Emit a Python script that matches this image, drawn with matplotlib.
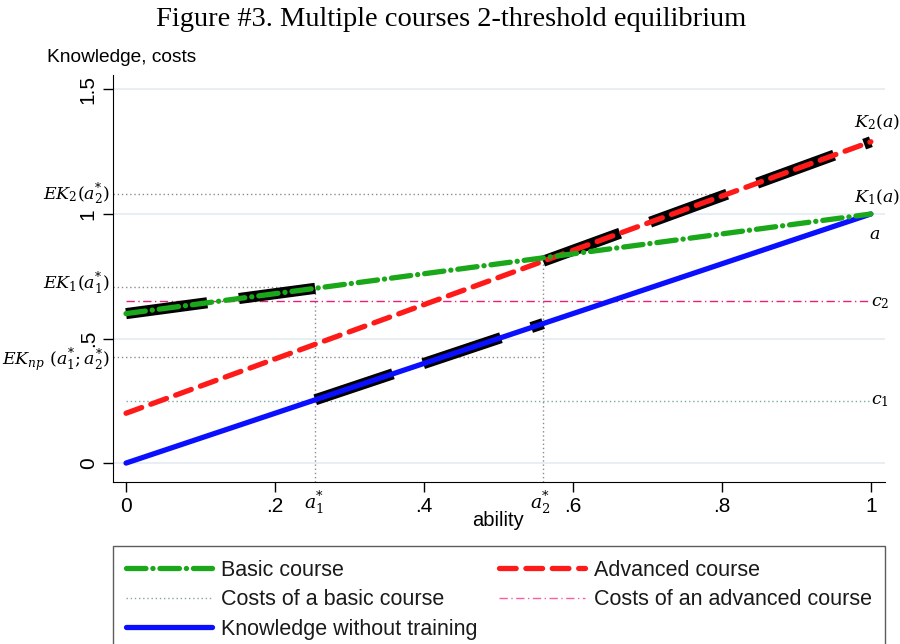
import matplotlib
matplotlib.use("Agg")
import matplotlib.pyplot as plt
import matplotlib.transforms as mtransforms
from matplotlib.lines import Line2D
import numpy as np

plt.rcParams['mathtext.fontset'] = 'stix'
plt.rcParams['lines.scale_dashes'] = False

# ---- data ----
ability = [0.0, 1.0]
basic_course = [0.60, 1.00]
advanced_course = [0.20, 1.29]
knowledge = [0.0, 1.0]
cost_basic = 0.25
cost_adv = 0.65
a1_star = 0.254
a2_star = 0.56
EK2 = 1.08
EK1 = 0.705
EKnp = 0.426
xticks = [0, 0.2, 0.4, 0.6, 0.8, 1.0]
xticklabels = ["0", ".2", ".4", ".6", ".8", "1"]
yticks = [0, 0.5, 1.0, 1.5]
yticklabels = ["0", ".5", "1", "1.5"]

GREEN = '#1aa81a'
RED = '#ff1a1a'
BLUE = '#0a10ff'
PINK = '#e8207a'
TEAL = '#79aaa2'
GREY = '#8c8c8c'

sans = ['Liberation Sans Narrow', 'Liberation Sans', 'DejaVu Sans']

fig = plt.figure(figsize=(9, 6.44), dpi=100)
ax = fig.add_axes([113/900, 1-482/644, 772/900, (482-75)/644])
ax.set_xlim(-0.0175, 1.019)
ax.set_ylim(-0.076, 1.558)

for s in ['top', 'right']:
    ax.spines[s].set_visible(False)

# grid
for y in yticks:
    ax.axhline(y, color='#e4ecf2', lw=1.2, zorder=0)

def interp(xs, ys, x):
    return float(np.interp(x, xs, ys))

xmin = ax.get_xlim()[0]
ymin = ax.get_ylim()[0]
dotted = dict(color=GREY, lw=1, ls=(0, (1, 2)), zorder=1)

# reference dotted lines
x_ek2 = (EK2 - advanced_course[0]) / (advanced_course[1] - advanced_course[0]) * (ability[1] - ability[0]) + ability[0]
ax.plot([xmin, x_ek2], [EK2, EK2], **dotted)
ax.plot([xmin, a1_star], [EK1, EK1], **dotted)
ax.plot([xmin, a2_star], [EKnp, EKnp], **dotted)
ax.plot([a1_star, a1_star], [ymin, interp(ability, basic_course, a1_star)], **dotted)
ax.plot([a2_star, a2_star], [ymin, interp(ability, basic_course, a2_star)], **dotted)

# costs
ax.plot(ability, [cost_basic]*2, color=TEAL, lw=1, ls=(0, (1, 2)), zorder=2)
ax.plot(ability, [cost_adv]*2, color=PINK, lw=1, ls=(0, (6, 2.5, 1, 2.5)), zorder=2)

# black highlighted (equilibrium) parts
blk = dict(color='black', lw=8, ls=(0, (59, 23)), dash_capstyle='butt', zorder=3)
xs = np.array([ability[0], a1_star])
ax.plot(xs, [interp(ability, basic_course, v) for v in xs], **blk)
xs = np.array([a1_star, a2_star])
ax.plot(xs, [interp(ability, knowledge, v) for v in xs], **blk)
xs = np.array([a2_star, ability[1]])
ax.plot(xs, [interp(ability, advanced_course, v) for v in xs], **blk)

# main lines
ax.plot(ability, knowledge, color=BLUE, lw=3.8, solid_capstyle='round', zorder=4)
ax.plot(ability, advanced_course, color=RED, lw=3.8, ls=(0, (12, 7)), dash_capstyle='round', zorder=5)
ax.plot(ability, basic_course, color=GREEN, lw=3.8, ls=(0, (14, 5, 0.1, 5)), dash_capstyle='round', zorder=6)

# ticks
ax.set_xticks(xticks)
ax.set_xticklabels(xticklabels, fontfamily=sans, fontsize=15)
ax.set_yticks(yticks)
ax.set_yticklabels(yticklabels, fontfamily=sans, fontsize=15, rotation=90, va='center')
ax.tick_params(axis='both', direction='out', length=7, width=1, pad=4)

# threshold labels on x axis
xtr = mtransforms.blended_transform_factory(ax.transData, ax.transAxes)
xl = dict(transform=xtr, ha='center', va='center', fontsize=13.5, math_fontfamily='dejavuserif')
ax.text(a1_star - 0.002, -0.05, r'$a_1^{*}$', **xl)
ax.text(a2_star - 0.004, -0.05, r'$a_2^{*}$', **xl)

# left labels
ytr = mtransforms.blended_transform_factory(ax.transAxes, ax.transData)
lab = dict(transform=ytr, ha='right', va='center', fontsize=12.5, math_fontfamily='dejavuserif')
ax.text(-0.004, EK2, r'$EK_2(a_2^{*})$', **lab)
ax.text(-0.004, EK1 + 0.015, r'$EK_1(a_1^{*})$', **lab)
ax.text(-0.004, EKnp - 0.012, r'$EK_{np}\ (a_1^{*};a_2^{*})$', **lab)

# right labels
rl = dict(ha='center', va='center', fontsize=12.5, clip_on=False, math_fontfamily='dejavuserif')
ax.text(ability[1] + 0.008, advanced_course[1] + 0.08, r'$K_2(a)$', **rl)
ax.text(ability[1] + 0.008, basic_course[1] + 0.065, r'$K_1(a)$', **rl)
ax.text(ability[1] + 0.005, knowledge[1] - 0.08, r'$a$', **rl)
ax.text(ability[1] + 0.012, cost_adv - 0.005, r'$c_2$', **rl)
ax.text(ability[1] + 0.012, cost_basic + 0.003, r'$c_1$', **rl)

# axis titles
fig.text(47/900, 1-58/644, 'Knowledge, costs', fontsize=13.8, fontfamily=['Liberation Sans'], ha='left', va='center')
fig.text(498/900, 1-521/644, 'ability', fontsize=14.5, fontfamily=sans, ha='center', va='center')
fig.text(451/900, 1-20/644, 'Figure #3. Multiple courses 2-threshold equilibrium',
         fontsize=20.5, fontfamily=['Liberation Serif'], ha='center', va='center')

# legend
handles = [
    Line2D([], [], color=GREEN, lw=3.8, ls=(0, (14, 5, 0.1, 5)), dash_capstyle='round'),
    Line2D([], [], color=TEAL, lw=1, ls=(0, (1, 2))),
    Line2D([], [], color=BLUE, lw=3.8, solid_capstyle='round'),
    Line2D([], [], color=RED, lw=3.8, ls=(0, (12, 7)), dash_capstyle='round'),
    Line2D([], [], color='#ff5aa8', lw=1, ls=(0, (6, 2.5, 1, 2.5))),
]
labels = ['Basic course', 'Costs of a basic course', 'Knowledge without training',
          'Advanced course', 'Costs of an advanced course']
leg = fig.legend(handles, labels, loc='upper left',
                 bbox_to_anchor=(113/900, 1-547/644, 772/900, 0.001), mode='expand',
                 ncol=2, frameon=True, fancybox=False, edgecolor='#333333',
                 prop={'family': 'Liberation Sans', 'size': 15.5},
                 handlelength=4.0, handletextpad=0.4, labelspacing=0.4,
                 borderaxespad=0, borderpad=0.62)
leg.get_frame().set_linewidth(1)
for t in leg.get_texts():
    t.set_color('#1a1a1a')

fig.savefig('out.png', dpi=100)
